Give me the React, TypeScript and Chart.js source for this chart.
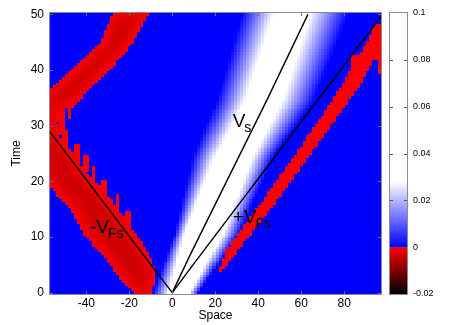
import React, { useEffect, useRef } from 'react';
import { Chart, registerables } from 'chart.js';

Chart.register(...registerables);

const FONT = "'Liberation Sans', Arial, sans-serif";

// ---- axes ----
const X_MIN = -56.9;
const X_MAX = 97.1;
const T_MIN = -0.25;
const T_MAX = 50.25;
const X_TICKS = [-40, -20, 0, 20, 40, 60, 80];
const T_TICKS = [0, 10, 20, 30, 40, 50];
const CB_MIN = -0.02;
const CB_MAX = 0.1;
const CB_TICKS = [-0.02, 0, 0.02, 0.04, 0.06, 0.08, 0.1];
const CB_LABELS = ['-0.02', '0', '0.02', '0.04', '0.06', '0.08', '0.1'];

// ---- field grid (space step, time step) ----
const CELL_DX = 1.4;
const CELL_DT = 0.5;

// ---- positive (white) band: edges at several times ----
const bandTimes = [0, 10.6, 24.4, 34.5, 50];
const bandFadeLeft = [-9, 1.3, 9.7, 20.6, 32];
const bandWhiteLeft = [-1, 6.2, 20.6, 34.6, 48];
const bandWhiteRight = [8, 23, 36.5, 50.1, 62.6];
const bandFadeRight = [12.5, 31, 47, 66, 82];
const BAND_PEAK = 0.03;

// ---- negative (red) regions: outlines (space, time) ----
const leftRedX = [-16.6, -10.4, -8.5, -7.8, -9.5, -13, -17, -22.5, -28.2, -35.2, -42.1, -46, -50, -52.5, -53.5, -52.5, -48, -44.5, -41.4, -33.6, -25.9, -18.1, -10.4, -10.4, -27.4, -27.4, -33.6, -41.4, -49.1, -57, -62, -62, -57, -53, -46.8, -41.4, -30.5, -23.5];
const leftRedT = [-0.5, -0.5, 1.5, 3.8, 6, 8.5, 10.6, 13.5, 16.6, 19.7, 22.6, 25.2, 26.5, 28, 30.5, 32.5, 33.2, 33.6, 35.3, 38.3, 41.3, 44.9, 50.3, 51, 51, 50.3, 44.9, 41.9, 39.2, 36.5, 36.5, 19, 19, 17.2, 14.8, 10.6, 5.8, 2.2];
const rightRedX = [21.4, 24.8, 42, 58, 74.2, 81.5, 87.7, 90.5, 94.3, 97.5, 97.5, 95.8, 95.6, 93, 86, 82, 65, 48.8, 30.5, 23.2];
const rightRedT = [4.0, 7.6, 16.6, 25.3, 34.45, 39, 43.3, 45.1, 48.1, 48.6, 39.2, 39.2, 42, 41.5, 36.5, 34.45, 25.3, 16.6, 7.6, 4.0];
const spikeX = [-51, -48, -49.5, -44, -40.5, -36.5, -31.5, -25.5, -20.5, -53.5, 84.5, 71];
const spikeT0 = [28.5, 31.5, 26, 23.5, 22, 20.5, 18, 15, 12.5, 33, 40, 30];
const spikeT1 = [33, 34, 29, 26.5, 24.5, 22.5, 20, 17.5, 14.5, 36.5, 42.5, 32];

// ---- speed lines ----
const vsX = [0, 8.2, 44, 63.1];
const vsT = [0, 6.7, 34.6, 50];
const fsPlusX = [0, 8.3, 67.9, 97.3];
const fsPlusT = [0, 4.3, 34.7, 49.7];
const fsMinusX = [0, -8, -56.9];
const fsMinusT = [0, 4, 28.9];

// ---- line labels ----
const labelMain = ['V', '-V', '+V'];
const labelSub = ['s', 'Fs', 'Fs'];
const labelX = [28.1, -38.3, 28.1];
const labelT = [29.8, 10.7, 12.5];

function interp(t: number, ts: number[], vs: number[]) {
  if (t <= ts[0]) return vs[0];
  for (let i = 1; i < ts.length; i++) {
    if (t <= ts[i]) {
      const f = (t - ts[i - 1]) / (ts[i] - ts[i - 1]);
      return vs[i - 1] + f * (vs[i] - vs[i - 1]);
    }
  }
  return vs[vs.length - 1];
}

function inPoly(x: number, t: number, px: number[], pt: number[]) {
  let inside = false;
  for (let i = 0, j = px.length - 1; i < px.length; j = i++) {
    if ((pt[i] > t) !== (pt[j] > t)) {
      const xi = px[i] + ((t - pt[i]) / (pt[j] - pt[i])) * (px[j] - px[i]);
      if (x < xi) inside = !inside;
    }
  }
  return inside;
}

function edgeDist(x: number, t: number, px: number[], pt: number[], sx: number, st: number) {
  let best = Infinity;
  for (let i = 0, j = px.length - 1; i < px.length; j = i++) {
    const ax = px[j] * sx, ay = pt[j] * st, bx = px[i] * sx, by = pt[i] * st;
    const qx = x * sx, qy = t * st;
    const dx = bx - ax, dy = by - ay;
    const L = dx * dx + dy * dy;
    let u = L > 0 ? ((qx - ax) * dx + (qy - ay) * dy) / L : 0;
    u = Math.max(0, Math.min(1, u));
    const ex = ax + u * dx - qx, ey = ay + u * dy - qy;
    const d = Math.sqrt(ex * ex + ey * ey);
    if (d < best) best = d;
  }
  return best;
}

function cellValue(x: number, t: number, sx: number, st: number) {
  if (inPoly(x, t, leftRedX, leftRedT)) {
    const d = edgeDist(x, t, leftRedX, leftRedT, sx, st);
    return -0.0004 - Math.min(d / 14, 1) * 0.0032;
  }
  if (inPoly(x, t, rightRedX, rightRedT)) return -0.0004;
  for (let i = 0; i < spikeX.length; i++) {
    if (Math.abs(x - spikeX[i]) < CELL_DX * 0.8 && t >= spikeT0[i] && t <= spikeT1[i]) return -0.0004;
  }
  const fl = interp(t, bandTimes, bandFadeLeft);
  const wl = interp(t, bandTimes, bandWhiteLeft);
  const wr = interp(t, bandTimes, bandWhiteRight);
  const fr = interp(t, bandTimes, bandFadeRight);
  if (x <= fl || x >= fr) return 0;
  if (x < wl) return (BAND_PEAK * (x - fl)) / (wl - fl);
  if (x <= wr) return BAND_PEAK;
  return (BAND_PEAK * (fr - x)) / (fr - wr);
}

function colorOf(v: number) {
  if (v < 0) {
    const r = Math.round(255 * Math.max(0, 1 + v / 0.02));
    return `rgb(${r},0,0)`;
  }
  const f = Math.min(1, v / 0.028);
  const c = Math.round(255 * f);
  return `rgb(${c},${c},255)`;
}

const heatmapPlugin = {
  id: 'heatmap',
  beforeDatasetsDraw(chart: any) {
    const { ctx, chartArea } = chart;
    const xs = chart.scales.x;
    const ys = chart.scales.y;
    ctx.save();
    ctx.beginPath();
    ctx.rect(chartArea.left, chartArea.top, chartArea.right - chartArea.left, chartArea.bottom - chartArea.top);
    ctx.clip();
    const sx = Math.abs(xs.getPixelForValue(1) - xs.getPixelForValue(0));
    const st = Math.abs(ys.getPixelForValue(1) - ys.getPixelForValue(0));
    const nCols = Math.ceil((X_MAX - X_MIN) / CELL_DX);
    const nRows = Math.ceil((T_MAX - T_MIN) / CELL_DT);
    for (let r = 0; r < nRows; r++) {
      const t0 = T_MIN + r * CELL_DT;
      const tc = t0 + CELL_DT / 2;
      const yTop = Math.round(ys.getPixelForValue(t0 + CELL_DT));
      const yBot = Math.round(ys.getPixelForValue(t0));
      for (let c = 0; c < nCols; c++) {
        const x0 = X_MIN + c * CELL_DX;
        const xc = x0 + CELL_DX / 2;
        const xl = Math.round(xs.getPixelForValue(x0));
        const xr = Math.round(xs.getPixelForValue(x0 + CELL_DX));
        ctx.fillStyle = colorOf(cellValue(xc, tc, sx, st));
        ctx.fillRect(xl, yTop, xr - xl, yBot - yTop);
      }
    }
    ctx.restore();

    // colour bar
    const cb = chart.scales.cb;
    const bx0 = Math.round(chartArea.right) + 9;
    const bx1 = Math.round(chartArea.right) + 26;
    const top = Math.round(cb.getPixelForValue(CB_MAX));
    const bot = Math.round(cb.getPixelForValue(CB_MIN));
    ctx.save();
    for (let yy = top; yy < bot; yy++) {
      ctx.fillStyle = colorOf(cb.getValueForPixel(yy + 0.5));
      ctx.fillRect(bx0, yy, bx1 - bx0, 1);
    }
    ctx.strokeStyle = '#555';
    ctx.lineWidth = 1;
    for (const v of CB_TICKS) {
      if (v === CB_MIN || v === CB_MAX) continue;
      const py = Math.round(cb.getPixelForValue(v)) + 0.5;
      ctx.beginPath();
      ctx.moveTo(bx0, py);
      ctx.lineTo(bx0 + 3, py);
      ctx.moveTo(bx1 - 3, py);
      ctx.lineTo(bx1, py);
      ctx.stroke();
    }
    ctx.strokeStyle = '#8c8c8c';
    ctx.strokeRect(bx0 - 0.5, top - 0.5, bx1 - bx0 + 1, bot - top + 1);
    ctx.restore();
  },
  afterDatasetsDraw(chart: any) {
    const { ctx, chartArea } = chart;
    const xs = chart.scales.x;
    const ys = chart.scales.y;
    ctx.save();
    // labels
    ctx.fillStyle = '#000';
    ctx.textBaseline = 'alphabetic';
    ctx.textAlign = 'left';
    for (let i = 0; i < labelMain.length; i++) {
      const px = xs.getPixelForValue(labelX[i]);
      const py = ys.getPixelForValue(labelT[i]);
      ctx.font = `19px ${FONT}`;
      ctx.fillText(labelMain[i], px, py);
      const w = ctx.measureText(labelMain[i]).width;
      ctx.font = `14px ${FONT}`;
      ctx.fillText(labelSub[i], px + w - 1, py + 5);
    }
    // inward ticks
    const L = Math.round(chartArea.left), R = Math.round(chartArea.right);
    const T = Math.round(chartArea.top), B = Math.round(chartArea.bottom);
    ctx.strokeStyle = '#6e6e6e';
    ctx.lineWidth = 1;
    ctx.beginPath();
    for (const v of X_TICKS) {
      const px = Math.round(xs.getPixelForValue(v)) + 0.5;
      ctx.moveTo(px, B);
      ctx.lineTo(px, B - 3);
      ctx.moveTo(px, T);
      ctx.lineTo(px, T + 3);
    }
    for (const v of T_TICKS) {
      const py = Math.round(ys.getPixelForValue(v)) + 0.5;
      ctx.moveTo(L, py);
      ctx.lineTo(L + 3, py);
      ctx.moveTo(R, py);
      ctx.lineTo(R - 3, py);
    }
    ctx.stroke();
    // frame
    ctx.strokeStyle = '#8c8c8c';
    ctx.strokeRect(L - 0.5, T - 0.5, R - L + 1, B - T + 1);
    ctx.restore();
  },
};

function lineData(xs: number[], ts: number[]) {
  return xs.map((x, i) => ({ x, y: ts[i] }));
}

function noPad(s: any) {
  s.paddingTop = 0;
  s.paddingBottom = 0;
  s.paddingLeft = 0;
  s.paddingRight = 0;
}

export default function App() {
  const ref = useRef<HTMLCanvasElement | null>(null);
  useEffect(() => {
    if (!ref.current) return;
    const lineStyle = {
      showLine: true,
      borderColor: '#000',
      borderWidth: 1.4,
      pointRadius: 0,
      fill: false,
      tension: 0,
    };
    const tickFont = { family: FONT, size: 12 };
    const chart = new Chart(ref.current, {
      type: 'scatter',
      data: {
        datasets: [
          { ...lineStyle, data: lineData(vsX, vsT) },
          { ...lineStyle, data: lineData(fsPlusX, fsPlusT) },
          { ...lineStyle, data: lineData(fsMinusX, fsMinusT) },
        ],
      },
      options: {
        animation: false,
        responsive: true,
        maintainAspectRatio: false,
        events: [],
        layout: { padding: { top: 13, left: 0, right: 0, bottom: 0 } },
        plugins: { legend: { display: false }, tooltip: { enabled: false } },
        scales: {
          x: {
            type: 'linear',
            position: 'bottom',
            min: X_MIN,
            max: X_MAX,
            afterBuildTicks: (s: any) => {
              s.ticks = X_TICKS.map((v) => ({ value: v }));
            },
            afterFit: (s: any) => {
              s.height = 31;
              noPad(s);
            },
            grid: { display: false, drawTicks: false },
            border: { display: false },
            ticks: { padding: 2, color: '#000', font: tickFont, maxRotation: 0, autoSkip: false },
            title: { display: true, text: 'Space', color: '#000', font: tickFont, padding: { top: 0, bottom: 2 } },
          },
          y: {
            type: 'linear',
            position: 'left',
            min: T_MIN,
            max: T_MAX,
            afterBuildTicks: (s: any) => {
              s.ticks = T_TICKS.map((v) => ({ value: v }));
            },
            afterFit: (s: any) => {
              s.width = 50;
              noPad(s);
            },
            grid: { display: false, drawTicks: false },
            border: { display: false },
            ticks: { padding: 6, color: '#000', font: tickFont, autoSkip: false },
            title: { display: true, text: 'Time', color: '#000', font: tickFont, padding: { top: 9, bottom: 0 } },
          },
          cb: {
            type: 'linear',
            position: 'right',
            min: CB_MIN,
            max: CB_MAX,
            afterBuildTicks: (s: any) => {
              s.ticks = CB_TICKS.map((v) => ({ value: v }));
            },
            afterFit: (s: any) => {
              s.width = 82;
              noPad(s);
            },
            grid: { display: false, drawTicks: false },
            border: { display: false },
            ticks: {
              padding: 32,
              color: '#000',
              font: { family: FONT, size: 9 },
              autoSkip: false,
              callback: (value: any) => {
                const i = CB_TICKS.findIndex((v) => Math.abs(v - Number(value)) < 1e-9);
                return i >= 0 ? CB_LABELS[i] : '';
              },
            },
          },
        },
      },
      plugins: [heatmapPlugin],
    } as any);
    return () => chart.destroy();
  }, []);
  return (
    <div style={{ position: 'fixed', left: 0, top: 0, width: 463, height: 325, background: '#fff' }}>
      <canvas ref={ref} />
    </div>
  );
}
